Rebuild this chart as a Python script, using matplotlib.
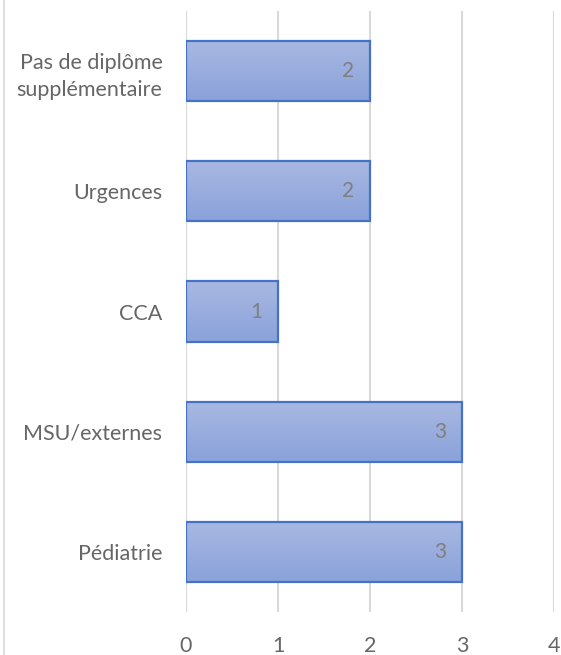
import numpy as np
import matplotlib.pyplot as plt
from matplotlib.colors import LinearSegmentedColormap
from matplotlib.lines import Line2D

categories = ['Pédiatrie', 'MSU/externes', 'CCA', 'Urgences', 'Pas de diplôme\nsupplémentaire']
values = [3, 3, 1, 2, 2]
xticks = [0, 1, 2, 3, 4]

plt.rcParams['font.family'] = ['Lato', 'DejaVu Sans']
grey = '#7f7f7f'
label_grey = '#666666'

fig = plt.figure(figsize=(5.61, 6.55), dpi=100)
ax = fig.add_axes([186 / 561, 43 / 655, 368 / 561, 601 / 655])

ypos = np.arange(len(categories))
bars = ax.barh(ypos, values, height=0.5, facecolor='none', edgecolor='#4472c4', linewidth=1.6, zorder=3)

# vertical gradient inside each bar
cmap = LinearSegmentedColormap.from_list('g', ['#8aa2da', '#a9b8e2'])
grad = np.linspace(0, 1, 100).reshape(-1, 1)
for b in bars:
    x0, y0 = b.get_x(), b.get_y()
    im = ax.imshow(grad, cmap=cmap, aspect='auto', origin='lower',
                   extent=[x0, x0 + b.get_width(), y0, y0 + b.get_height()], zorder=2)
    im.set_clip_path(b)

for y, v in zip(ypos, values):
    ax.text(v - 0.24, y, str(v), ha='center', va='center', color=grey, fontsize=15, zorder=4)

ax.set_xlim(0, 4)
ax.set_ylim(-0.5, 4.5)
ax.set_xticks(xticks)
ax.set_yticks(ypos)
ax.set_yticklabels(categories, color=label_grey, fontsize=15.5, linespacing=1.45)
ax.tick_params(axis='x', labelsize=15.5, length=0, pad=17)
ax.tick_params(axis='y', length=0, pad=17)
for lbl in ax.get_xticklabels():
    lbl.set_color(label_grey)
ax.grid(axis='x', color='#d9d9d9', linewidth=1.5, zorder=0)
ax.set_axisbelow(True)
for s in ax.spines.values():
    s.set_visible(False)

# chart area border (left edge visible)
fig.add_artist(Line2D([3.5 / 561, 3.5 / 561], [0, 1], color='#d9d9d9', linewidth=1.2))

fig.savefig('out.png', dpi=100)
